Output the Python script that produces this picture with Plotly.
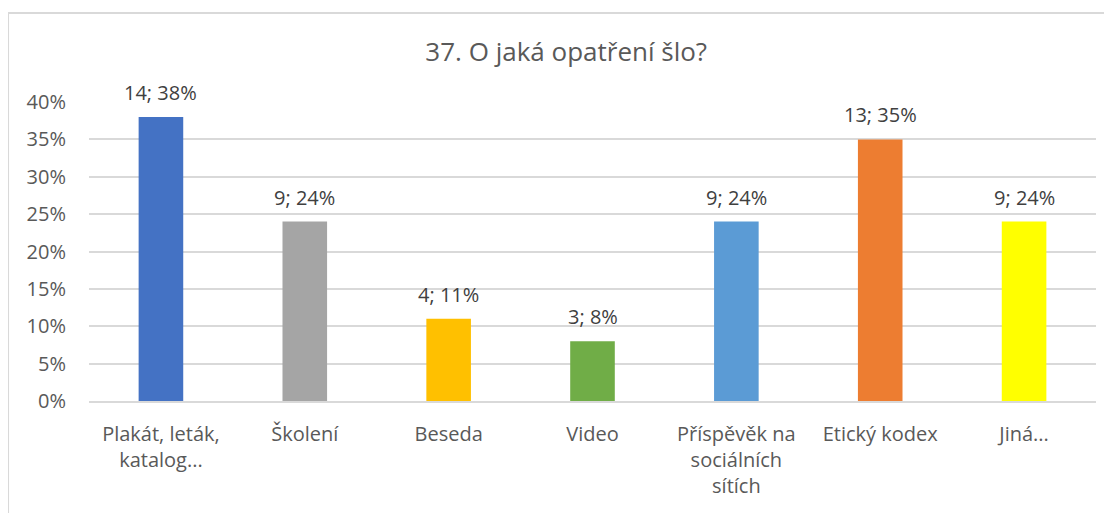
import plotly.graph_objects as go

# data
categories = ["Plakát, leták,<br>katalog...", "Školení", "Beseda", "Video",
              "Příspěvěk na<br>sociálních<br>sítích", "Etický kodex", "Jiná..."]
counts = [14, 9, 4, 3, 9, 13, 9]
percents = [38, 24, 11, 8, 24, 35, 24]
colors = ["#4472C4", "#A5A5A5", "#FFC000", "#70AD47", "#5B9BD5", "#ED7D31", "#FFFF00"]

labels = [f"{c}; {p}%" for c, p in zip(counts, percents)]
values = [p / 100 for p in percents]

fig = go.Figure()
fig.add_trace(go.Bar(
    x=categories,
    y=values,
    marker=dict(color=colors, line=dict(width=0)),
    cliponaxis=False,
    hoverinfo="x+y",
))

# data labels sit a bit higher than plotly's "outside" text, so use annotations
for cat, val, lab in zip(categories, values, labels):
    fig.add_annotation(x=cat, y=val, text=lab, showarrow=False,
                       yanchor="bottom", yshift=9,
                       font=dict(size=20, color="#404040"))

font_family = "'Open Sans', sans-serif"

# note: the page body has an 8px margin, so figure coords = page coords - 8
fig.update_layout(
    width=1112,
    height=513,
    margin=dict(l=81, r=24, t=94, b=120),
    paper_bgcolor="white",
    plot_bgcolor="white",
    font=dict(family=font_family, size=20, color="#595959"),
    title=dict(text="37. O jaká opatření šlo?", x=0.502, xref="container",
               y=0.914, yref="container", yanchor="middle",
               font=dict(size=26, color="#595959")),
    bargap=0.69,
    showlegend=False,
)

fig.update_yaxes(range=[0, 0.4], dtick=0.05, tickformat=".0%",
                 showgrid=True, gridcolor="#D9D9D9", gridwidth=1.5,
                 zeroline=False, showline=False, ticklabelstandoff=22,
                 automargin=False)
fig.update_xaxes(showline=True, linecolor="#D9D9D9", linewidth=1.5,
                 showgrid=False, ticklabelstandoff=14, tickangle=0,
                 automargin=False)

# outer chart frame (top and left edges, as cropped in the source)
fig.add_shape(type="line", xref="paper", yref="paper",
              x0=-0.0804, x1=1.03, y0=1.298, y1=1.298,
              line=dict(color="#D9D9D9", width=2))
fig.add_shape(type="line", xref="paper", yref="paper",
              x0=-0.0804, x1=-0.0804, y0=1.298, y1=-0.45,
              line=dict(color="#D9D9D9", width=2))

fig.write_html("out.html")
